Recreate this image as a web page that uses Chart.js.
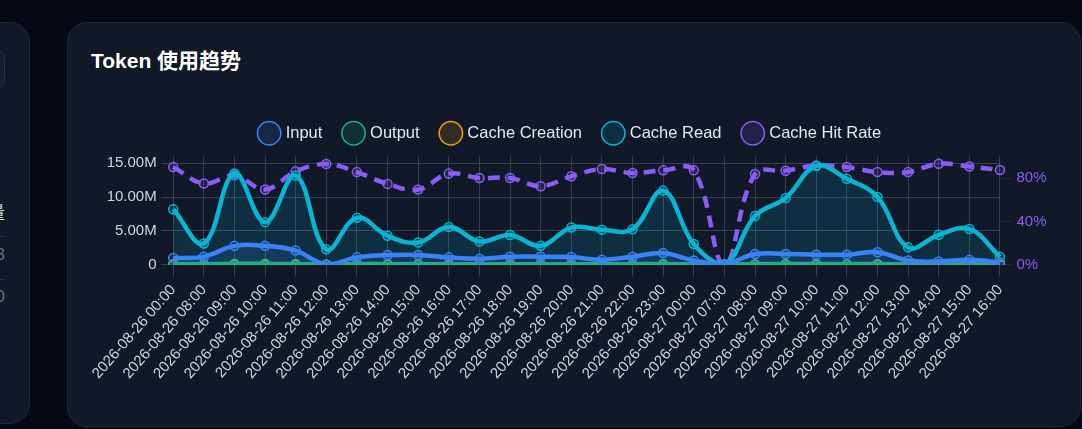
<!DOCTYPE html>
<html lang="zh-CN">
<head>
<meta charset="UTF-8">
<title>Token 使用趋势</title>
<script src="https://cdn.jsdelivr.net/npm/chart.js@4.4.1/dist/chart.umd.min.js"></script>
<style>
  html, body {
    margin: 0;
    padding: 0;
    width: 1082px;
    height: 429px;
    overflow: hidden;
    background: #040914;
    font-family: 'Liberation Sans', Arial, 'Noto Sans CJK SC', sans-serif;
  }
  .side-card {
    position: absolute;
    left: -300px;
    top: 22px;
    width: 328px;
    height: 400px;
    background: #111827;
    border: 1px solid #1f2937;
    border-radius: 20px;
    overflow: hidden;
  }
  .side-card .search {
    position: absolute;
    top: 26px;
    right: 24px;
    width: 260px;
    height: 38px;
    border: 1px solid #2b3544;
    border-radius: 10px;
    background: #151d2d;
  }
  .side-card .row {
    position: absolute;
    right: 24px;
    width: 260px;
    text-align: right;
    font-size: 17px;
  }
  .side-card .row.line {
    border-bottom: 1px solid #2b3544;
  }
  .card {
    position: absolute;
    left: 67px;
    top: 22px;
    width: 1012px;
    height: 403px;
    background: #111827;
    border: 1px solid #1f2937;
    border-radius: 20px;
  }
  .card-title {
    position: absolute;
    left: 91px;
    top: 49px;
    font-size: 21px;
    line-height: 24px;
    font-weight: bold;
    color: #ffffff;
    font-family: 'Liberation Sans', Arial, 'Noto Sans CJK SC', sans-serif;
  }
  .chart-box {
    position: absolute;
    left: 91px;
    top: 102px;
    width: 960px;
    height: 285px;
  }
</style>
</head>
<body>

<div class="side-card">
  <div class="search"></div>
  <div class="row" style="top: 176px; color: #d1d5db;">量</div>
  <div class="row line" style="top: 212px; height: 1px;"></div>
  <div class="row" style="top: 222px; color: #6b7280;">3</div>
  <div class="row line" style="top: 255px; height: 1px;"></div>
  <div class="row" style="top: 264px; color: #6b7280;">0</div>
</div>

<div class="card"></div>
<div class="card-title">Token 使用趋势</div>
<div class="chart-box">
  <canvas id="tokenChart"></canvas>
</div>

<script>
// Hourly buckets on the x axis
const timeLabels = [
  '2026-08-26 00:00', '2026-08-26 08:00', '2026-08-26 09:00', '2026-08-26 10:00',
  '2026-08-26 11:00', '2026-08-26 12:00', '2026-08-26 13:00', '2026-08-26 14:00',
  '2026-08-26 15:00', '2026-08-26 16:00', '2026-08-26 17:00', '2026-08-26 18:00',
  '2026-08-26 19:00', '2026-08-26 20:00', '2026-08-26 21:00', '2026-08-26 22:00',
  '2026-08-26 23:00', '2026-08-27 00:00', '2026-08-27 07:00', '2026-08-27 08:00',
  '2026-08-27 09:00', '2026-08-27 10:00', '2026-08-27 11:00', '2026-08-27 12:00',
  '2026-08-27 13:00', '2026-08-27 14:00', '2026-08-27 15:00', '2026-08-27 16:00'
];

// Token counts in millions
const inputTokens = [1.0, 1.2, 2.8, 2.8, 2.1, 0.05, 1.1, 1.45, 1.45, 1.1, 0.9, 1.2, 1.2, 1.15,
  0.73, 1.2, 1.75, 0.63, 0.1, 1.6, 1.6, 1.5, 1.5, 1.85, 0.63, 0.5, 0.73, 0.35];
const outputTokens = [0.12, 0.1, 0.15, 0.14, 0.12, 0.02, 0.1, 0.1, 0.1, 0.09, 0.08, 0.1, 0.09, 0.1,
  0.07, 0.09, 0.12, 0.06, 0.01, 0.1, 0.12, 0.11, 0.1, 0.12, 0.06, 0.05, 0.06, 0.04];
const cacheCreationTokens = [0.02, 0.02, 0.03, 0.02, 0.02, 0, 0.02, 0.01, 0.01, 0.02, 0.01, 0.01, 0.01, 0.02,
  0.01, 0.01, 0.02, 0.01, 0, 0.02, 0.02, 0.02, 0.02, 0.02, 0.01, 0.01, 0.01, 0];
const cacheReadTokens = [8.19, 3.16, 13.5, 6.3, 13.2, 2.28, 6.96, 4.3, 3.3, 5.6, 3.45, 4.4, 2.8, 5.5,
  5.18, 5.26, 10.96, 3.07, 0.05, 7.2, 9.88, 14.6, 12.7, 10.03, 2.58, 4.43, 5.3, 1.2];

// Cache hit rate in percent
const cacheHitRate = [90.2, 75, 82.6, 69.5, 86.3, 93, 85.6, 74.7, 69.5, 84.2, 80.1, 80.1, 72.6, 81.7,
  88.4, 84.7, 87.2, 87.2, 0, 83.8, 86.9, 91.8, 90.2, 85.6, 85.6, 93.3, 90.8, 87.5];

const fontFamily = "'Liberation Sans', Arial, sans-serif";
const gridColor = '#374151';

// Helper for the token line datasets (values are in millions)
function tokenSeries(label, data, color, fill) {
  return {
    label: label,
    data: data,
    borderColor: color,
    backgroundColor: fill,
    fill: 'origin',
    tension: 0.4,
    borderWidth: 4.5,
    pointRadius: 4.5,
    pointBorderWidth: 1.5,
    pointBorderColor: color,
    pointBackgroundColor: fill,
    yAxisID: 'y'
  };
}

// Add a little space under the legend
const legendSpacing = {
  id: 'legendSpacing',
  beforeInit(chart) {
    const origFit = chart.legend.fit;
    chart.legend.fit = function () {
      origFit.bind(chart.legend)();
      this.height += 5;
    };
  }
};

const ctx = document.getElementById('tokenChart').getContext('2d');
const tokenChart = new Chart(ctx, {
  type: 'line',
  data: {
    labels: timeLabels,
    datasets: [
      tokenSeries('Input', inputTokens, '#3b82f6', 'rgba(59, 130, 246, 0.15)'),
      tokenSeries('Output', outputTokens, '#10b981', 'rgba(16, 185, 129, 0.15)'),
      tokenSeries('Cache Creation', cacheCreationTokens, '#f59e0b', 'rgba(245, 158, 11, 0.15)'),
      tokenSeries('Cache Read', cacheReadTokens, '#06b6d4', 'rgba(6, 182, 212, 0.15)'),
      {
        label: 'Cache Hit Rate',
        data: cacheHitRate,
        borderColor: '#8b5cf6',
        backgroundColor: 'rgba(139, 92, 246, 0.15)',
        borderDash: [12, 8],
        fill: false,
        tension: 0.4,
        borderWidth: 4.5,
        pointRadius: 4.5,
        pointBorderWidth: 1.5,
        pointBorderColor: '#8b5cf6',
        pointBackgroundColor: 'rgba(139, 92, 246, 0.15)',
        yAxisID: 'rate'
      }
    ]
  },
  options: {
    responsive: true,
    maintainAspectRatio: false,
    animation: false,
    plugins: {
      legend: {
        position: 'top',
        labels: {
          usePointStyle: true,
          pointStyle: 'circle',
          padding: 23,
          color: '#e5e7eb',
          font: { family: fontFamily, size: 16.5 }
        }
      },
      tooltip: { enabled: false }
    },
    scales: {
      x: {
        grid: { color: gridColor, tickLength: 12 },
        border: { color: gridColor },
        ticks: {
          color: '#d1d5db',
          font: { family: fontFamily, size: 15 },
          padding: 4.5,
          autoSkip: false,
          minRotation: 49,
          maxRotation: 49
        }
      },
      y: {
        position: 'left',
        min: 0,
        max: 16,
        grid: { color: gridColor, tickLength: 12 },
        border: { color: gridColor },
        ticks: {
          stepSize: 5,
          includeBounds: false,
          color: '#d1d5db',
          padding: 4.5,
          font: { family: fontFamily, size: 15 },
          callback: value => value === 0 ? '0' : value.toFixed(2) + 'M'
        }
      },
      rate: {
        position: 'right',
        min: 0,
        max: 100,
        grid: { drawOnChartArea: false, color: '#1f2937', tickLength: 12 },
        border: { color: gridColor },
        ticks: {
          stepSize: 40,
          includeBounds: false,
          color: '#8b5cf6',
          padding: 4.5,
          font: { family: fontFamily, size: 15 },
          callback: value => value + '%'
        }
      }
    }
  },
  plugins: [legendSpacing]
});
</script>
</body>
</html>
